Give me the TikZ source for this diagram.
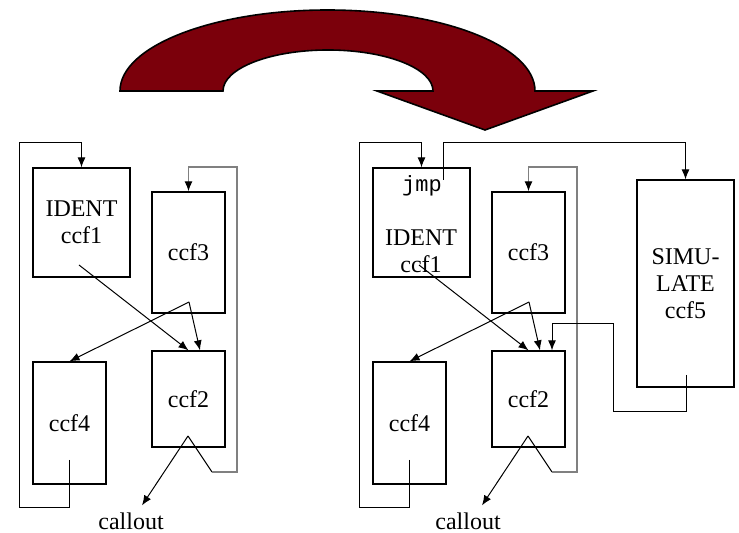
\documentclass[tikz,border=0pt]{standalone}
\usepackage{fontspec}
\setmainfont{Liberation Serif}
\setmonofont{Liberation Mono}
\usetikzlibrary{arrows.meta}

\definecolor{swapred}{RGB}{123,0,11}

\begin{document}
\begin{tikzpicture}[x=0.5pt, y=-0.5pt,
	font=\fontsize{12}{13.5}\selectfont,
	line width=0.5pt,
	>={Latex[length=5pt,width=4pt]},
	blk/.style={draw, line width=0.65pt, inner sep=0pt, align=center},
	loopback/.style={draw=gray, line width=0.6pt, -{Latex[length=5pt,width=4pt,color=black]}}]
	\useasboundingbox (0,0) rectangle (739,533);

	\draw[fill=swapred, line width=0.8pt] (120,91) arc[start angle=180, end angle=360, x radius=207.5, y radius=81]
		-- (593,91) -- (485,130) -- (377,91) -- (433,91)
		arc[start angle=360, end angle=180, x radius=105, y radius=41] -- cycle;

	\node[blk, minimum width=48.5pt, minimum height=54.5pt] (l1) at (81.5,222.5) {IDENT\\ccf1};
	\node[blk, minimum width=36.5pt, minimum height=60.5pt] (l3) at (188.5,252.5) {ccf3};
	\node[blk, minimum width=36.5pt, minimum height=61pt] (l4) at (69.5,423) {ccf4};
	\node[blk, minimum width=36.5pt, minimum height=48pt] (l2) at (188.5,399) {ccf2};
	\node (lcall) at (131,521) {callout};

	\node[blk, minimum width=48.5pt, minimum height=54.5pt] (r1) at (421.5,222.5) {};
	\node[font=\fontsize{11}{12}\ttfamily] (rjmp) at (422,186) {jmp};
	\node[align=center] (rident) at (421,251) {IDENT\\ccf1};
	\node[blk, minimum width=36.5pt, minimum height=60.5pt] (r3) at (528.5,252.5) {ccf3};
	\node[blk, minimum width=36.5pt, minimum height=61pt] (r4) at (409.5,423) {ccf4};
	\node[blk, minimum width=36.5pt, minimum height=48pt] (r2) at (528.5,399) {ccf2};
	\node[blk, minimum width=48.5pt, minimum height=103.5pt] (r5) at (685.5,283.5) {SIMU-\\LATE\\ccf5};
	\node (rcall) at (468,521) {callout};

	\coordinate (l1in) at (79,265);
	\coordinate (l3in) at (189,302);
	\coordinate (l2in) at (188,436);
	\coordinate (l2bend) at (212,472);
	\coordinate (l4in) at (69,460);
	\coordinate (r1in) at (419,265);
	\coordinate (r1jmp) at (443,180);
	\coordinate (r3in) at (529,302);
	\coordinate (r2in) at (528,436);
	\coordinate (r2bend) at (552,472);
	\coordinate (r4in) at (409,460);
	\coordinate (r5in) at (686,375);

	\path [->] (l1in) edge (l2.north);
	\path [->] (l3in) edge ([xshift=5.75pt]l2.north);
	\path [->] (l3in) edge (l4.north);
	\path [->] (l2in) edge ([xshift=5.5pt]lcall.north);
	\path [-] (l2in) edge (l2bend);
	\draw[->] (l4in) |- (19,508) |- (l1.north |- 0,143) -- (l1.north);
	\draw[loopback] (l2bend) -| (237,167) -| (l3.north);

	\path [->] (r1in) edge (r2.north);
	\path [->] (r3in) edge ([xshift=5.75pt]r2.north);
	\path [->] (r3in) edge (r4.north);
	\path [->] (r2in) edge ([xshift=7pt]rcall.north);
	\path [-] (r2in) edge (r2bend);
	\draw[->] (r4in) |- (359,508) |- (r1.north |- 0,143) -- (r1.north);
	\draw[loopback] (r2bend) -| (577,167) -| (r3.north);
	\draw[->] (r1jmp) |- (r5.north |- 0,143) -- (r5.north);
	\draw[->] (r5in) |- (613,412) |- (552,324) -- ([xshift=11.75pt]r2.north);
\end{tikzpicture}
\end{document}
